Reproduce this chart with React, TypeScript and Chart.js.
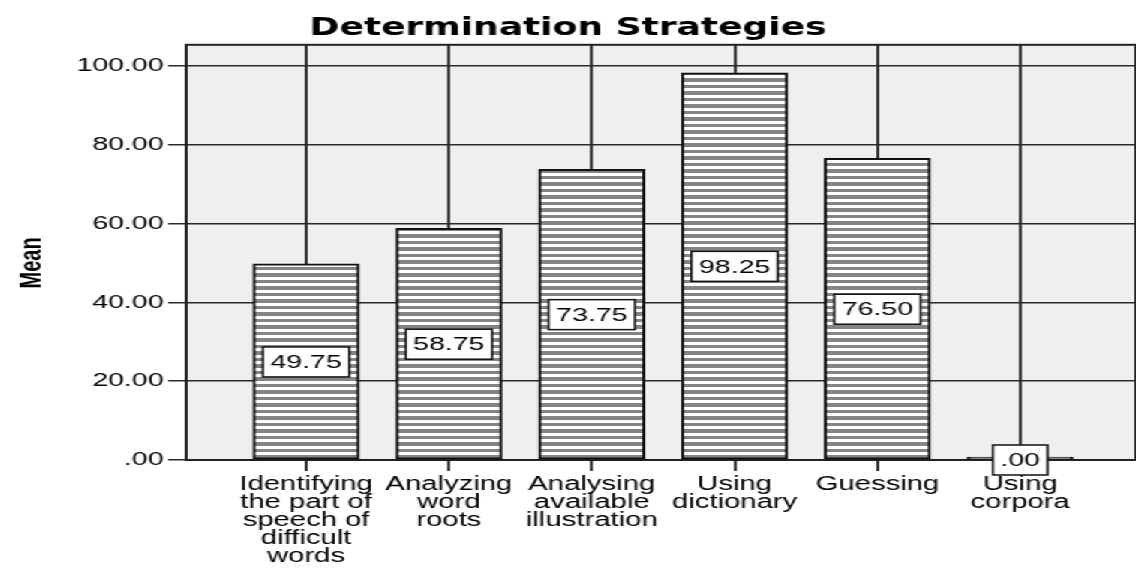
import React, { useEffect, useRef } from "react";
import { Chart, registerables } from "chart.js";

Chart.register(...registerables);

// ---- data ----
const categories: string[][] = [
  ["Identifying", "the part of", "speech of", "difficult", "words"],
  ["Analyzing", "word", "roots"],
  ["Analysing", "available", "illustration"],
  ["Using", "dictionary"],
  ["Guessing"],
  ["Using", "corpora"],
];
const values: number[] = [49.75, 58.75, 73.75, 98.25, 76.5, 0];
const yTickValues: number[] = [0, 20, 40, 60, 80, 100];
const chartTitle = "Determination Strategies";
const yAxisTitle = "Mean";

// ---- layout ----
const W = 757;
const H = 568;
const SX = 1136 / W;
const PLOT_BOTTOM = 460;
const PLOT_LEFT = 124;

function fmt(v: number): string {
  const s = v.toFixed(2);
  return s.startsWith("0.") ? s.slice(1) : s;
}

function makePattern(ctx: CanvasRenderingContext2D) {
  const c = document.createElement("canvas");
  c.width = 4;
  c.height = 13;
  const g = c.getContext("2d")!;
  g.fillStyle = "#ffffff";
  g.fillRect(0, 0, 4, 13);
  g.fillStyle = "#858585";
  g.fillRect(0, 0, 4, 4);
  g.fillRect(0, 7, 4, 3);
  return ctx.createPattern(c, "repeat")!;
}

const plotBackground = {
  id: "plotBackground",
  beforeDraw(chart: any) {
    const { ctx, chartArea: a } = chart;
    ctx.save();
    ctx.fillStyle = "#efefef";
    ctx.fillRect(a.left, a.top, a.right - a.left, a.bottom - a.top);
    ctx.restore();
  },
};

const plotFrame = {
  id: "plotFrame",
  beforeDatasetsDraw(chart: any) {
    const { ctx, chartArea: a } = chart;
    ctx.save();
    ctx.strokeStyle = "#222";
    ctx.lineWidth = 2;
    ctx.strokeRect(a.left, a.top, a.right - a.left, a.bottom - a.top);
    ctx.restore();
  },
};

const valueLabels = {
  id: "valueLabels",
  afterDatasetsDraw(chart: any) {
    const { ctx } = chart;
    const yScale = chart.scales.y;
    const meta = chart.getDatasetMeta(0);
    ctx.save();
    ctx.font = "19px 'Liberation Sans', Arial, sans-serif";
    ctx.textAlign = "center";
    ctx.textBaseline = "middle";
    meta.data.forEach((el: any, i: number) => {
      const v = values[i];
      const txt = fmt(v);
      const x = el.x;
      const y = yScale.getPixelForValue(v / 2);
      const tw = ctx.measureText(txt).width;
      const bw = tw + 10;
      const bh = 30;
      ctx.fillStyle = "#ffffff";
      ctx.fillRect(x - bw / 2, y - bh / 2, bw, bh);
      ctx.strokeStyle = "#111";
      ctx.lineWidth = 1.5;
      ctx.strokeRect(x - bw / 2, y - bh / 2, bw, bh);
      ctx.fillStyle = "#000";
      ctx.fillText(txt, x, y + 1);
    });
    ctx.restore();
  },
};

const yTitle = {
  id: "yTitle",
  afterDraw(chart: any) {
    const { ctx } = chart;
    const yScale = chart.scales.y;
    const cy = yScale.getPixelForValue(50);
    ctx.save();
    ctx.translate(21.5, cy);
    ctx.rotate(-Math.PI / 2);
    ctx.font = "bold 20px 'Liberation Sans', Arial, sans-serif";
    ctx.fillStyle = "#000";
    ctx.textAlign = "center";
    ctx.textBaseline = "middle";
    ctx.fillText(yAxisTitle, 0, 0);
    ctx.restore();
  },
};

export default function App() {
  const ref = useRef<HTMLCanvasElement | null>(null);

  useEffect(() => {
    const canvas = ref.current!;
    const ctx = canvas.getContext("2d")!;
    Chart.defaults.font.family = "'Liberation Sans', Arial, sans-serif";
    const pattern = makePattern(ctx);

    const chart = new Chart(canvas, {
      type: "bar",
      data: {
        datasets: [
          {
            data: values.map((v, i) => ({ x: i, y: v })),
            backgroundColor: pattern,
            borderColor: "#111",
            borderWidth: 2,
            borderSkipped: false,
            barThickness: 70.7,
            minBarLength: 3,
          } as any,
        ],
      },
      options: {
        animation: false,
        responsive: false,
        maintainAspectRatio: false,
        layout: { padding: 0 },
        plugins: {
          legend: { display: false },
          tooltip: { enabled: false },
          title: {
            display: true,
            text: chartTitle,
            color: "#000",
            font: { family: "'DejaVu Sans', sans-serif", weight: "bold", size: 24, lineHeight: 1.2 },
            padding: { top: 14, bottom: 2 },
          },
        },
        scales: {
          x: {
            type: "linear",
            min: -0.84,
            max: 5.81,
            offset: false,
            grid: { offset: false, color: "#333", lineWidth: 2, tickLength: 11, drawTicks: true },
            border: { color: "#000", width: 2 },
            ticks: {
              autoSkip: false,
              maxRotation: 0,
              minRotation: 0,
              padding: 5,
              color: "#000",
              font: { size: 19.5, lineHeight: "18px" },
              callback: (v: any) => categories[Number(v)] ?? "",
            },
            afterBuildTicks: (s: any) => {
              s.ticks = categories.map((_, i) => ({ value: i }));
            },
            afterFit: (s: any) => {
              s.height = H - PLOT_BOTTOM;
            },
          } as any,
          y: {
            min: 0,
            max: 105.33,
            ticks: {
              includeBounds: false,
              stepSize: 20,
              padding: 3,
              color: "#000",
              font: { size: 19 },
              callback: (v: any) => fmt(Number(v)),
            },
            afterBuildTicks: (s: any) => {
              s.ticks = yTickValues.map((v) => ({ value: v }));
            },
            grid: { color: "#2a2a2a", lineWidth: 1.5, tickLength: 12 },
            border: { color: "#000", width: 2 },
            afterFit: (s: any) => {
              s.width = PLOT_LEFT;
            },
          } as any,
        },
      },
      plugins: [plotBackground, plotFrame, valueLabels, yTitle],
    });

    return () => chart.destroy();
  }, []);

  return (
    <div
      style={{
        position: "fixed",
        left: 0,
        top: 0,
        width: W,
        height: H,
        background: "#fff",
        transform: `scaleX(${SX})`,
        transformOrigin: "0 0",
      }}
    >
      <canvas ref={ref} width={W} height={H} style={{ display: "block", width: W, height: H }} />
    </div>
  );
}
